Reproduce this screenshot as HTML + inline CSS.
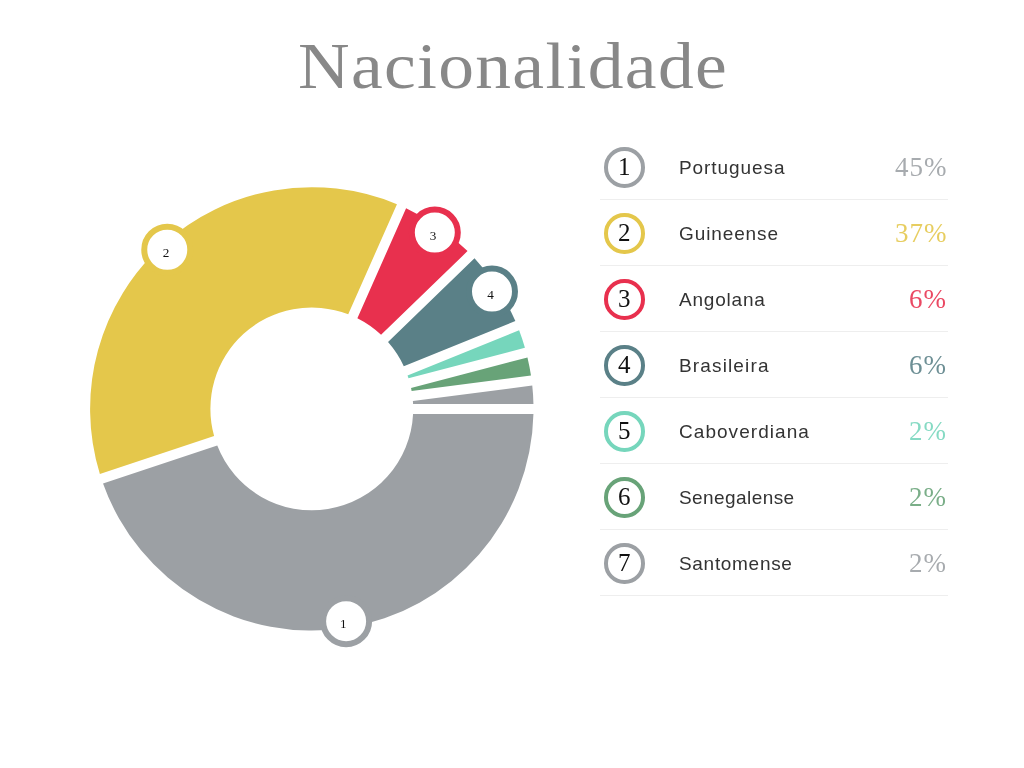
<!DOCTYPE html>
<html><head><meta charset="utf-8"><style>
html,body{margin:0;padding:0;background:#fff;width:1024px;height:768px;overflow:hidden;}
body{position:relative;}
.nm,.pc,.circ span,.title,svg text{will-change:transform;}
.title{position:absolute;left:1px;width:1024px;top:34px;text-align:center;font-family:"Liberation Serif",serif;font-size:65px;letter-spacing:1.2px;color:#888888;transform:scaleX(1.1);transform-origin:512px 0;line-height:1;white-space:nowrap;}
svg{position:absolute;left:0;top:0;}
.circ{position:absolute;left:604.3px;width:40.5px;height:40.5px;box-sizing:border-box;border:4px solid;border-radius:50%;}
.circ span{position:absolute;left:0;right:0;top:0;text-align:center;font-family:"Liberation Serif",serif;font-size:25px;line-height:32.5px;color:#111;}
.nm{position:absolute;left:679px;font-family:"Liberation Sans",sans-serif;font-size:19px;color:#333333;line-height:1;white-space:nowrap;}
.pc{position:absolute;right:77px;opacity:0.88;font-family:"Liberation Serif",serif;font-size:27px;letter-spacing:1px;line-height:1;white-space:nowrap;}
.sep{position:absolute;left:600px;width:348px;height:1px;background:#eeeeee;}
</style></head><body>
<div class="title">Nacionalidade</div>
<svg width="1024" height="768" viewBox="0 0 1024 768">
<path d="M533.44,413.90A221.7,221.7 0 0 1 103.02,483.49L217.26,445.56A101.4,101.4 0 0 0 413.08,413.90Z" fill="#9ca0a4"/><path d="M99.87,474.00A221.7,221.7 0 0 1 396.95,204.20L348.22,314.27A101.4,101.4 0 0 0 214.11,436.07Z" fill="#e4c74b"/><path d="M406.09,208.25A221.7,221.7 0 0 1 467.54,251.11L381.07,334.85A101.4,101.4 0 0 0 357.37,318.32Z" fill="#e8304e"/><path d="M474.50,258.30A221.7,221.7 0 0 1 515.37,321.09L403.80,366.26A101.4,101.4 0 0 0 388.03,342.04Z" fill="#5a8087"/><path d="M519.12,330.36A221.7,221.7 0 0 1 524.93,347.84L408.50,378.37A101.4,101.4 0 0 0 407.55,375.53Z" fill="#76d6bc"/><path d="M527.46,357.52A221.7,221.7 0 0 1 530.98,375.60L411.61,390.99A101.4,101.4 0 0 0 411.03,388.05Z" fill="#68a378"/><path d="M532.26,385.52A221.7,221.7 0 0 1 533.44,403.90L413.08,403.90A101.4,101.4 0 0 0 412.88,400.91Z" fill="#9ca0a4"/>
<circle cx="346.11" cy="621.14" r="23.0" fill="#fff" stroke="#9ca0a4" stroke-width="6.0"/><text x="343.40" y="628.10" text-anchor="middle" font-family="Liberation Serif" font-size="13.2" fill="#111">1</text><circle cx="167.26" cy="249.74" r="23.0" fill="#fff" stroke="#e4c74b" stroke-width="6.0"/><text x="166.00" y="256.90" text-anchor="middle" font-family="Liberation Serif" font-size="13.2" fill="#111">2</text><circle cx="434.81" cy="232.56" r="23.0" fill="#fff" stroke="#e8304e" stroke-width="6.0"/><text x="433.00" y="240.00" text-anchor="middle" font-family="Liberation Serif" font-size="13.2" fill="#111">3</text><circle cx="491.99" cy="291.61" r="23.0" fill="#fff" stroke="#5a8087" stroke-width="6.0"/><text x="490.60" y="299.00" text-anchor="middle" font-family="Liberation Serif" font-size="13.2" fill="#111">4</text>
</svg>
<div class="circ" style="top:147.35px;border-color:#9ca0a4"><span>1</span></div><div class="nm" style="top:157.8px;letter-spacing:0.92px">Portuguesa</div><div class="pc" style="top:154.1px;color:#9ca0a4">45%</div><div class="sep" style="top:199px"></div><div class="circ" style="top:213.35px;border-color:#e4c74b"><span>2</span></div><div class="nm" style="top:223.8px;letter-spacing:0.89px">Guineense</div><div class="pc" style="top:220.1px;color:#e4c74b">37%</div><div class="sep" style="top:265px"></div><div class="circ" style="top:279.35px;border-color:#e8304e"><span>3</span></div><div class="nm" style="top:289.8px;letter-spacing:0.79px">Angolana</div><div class="pc" style="top:286.1px;color:#e8304e">6%</div><div class="sep" style="top:331px"></div><div class="circ" style="top:345.35px;border-color:#5a8087"><span>4</span></div><div class="nm" style="top:355.8px;letter-spacing:1.14px">Brasileira</div><div class="pc" style="top:352.1px;color:#5a8087">6%</div><div class="sep" style="top:397px"></div><div class="circ" style="top:411.35px;border-color:#76d6bc"><span>5</span></div><div class="nm" style="top:421.8px;letter-spacing:1.05px">Caboverdiana</div><div class="pc" style="top:418.1px;color:#76d6bc">2%</div><div class="sep" style="top:463px"></div><div class="circ" style="top:477.35px;border-color:#68a378"><span>6</span></div><div class="nm" style="top:487.8px;letter-spacing:0.42px">Senegalense</div><div class="pc" style="top:484.1px;color:#68a378">2%</div><div class="sep" style="top:529px"></div><div class="circ" style="top:543.35px;border-color:#9ca0a4"><span>7</span></div><div class="nm" style="top:553.8px;letter-spacing:0.69px">Santomense</div><div class="pc" style="top:550.1px;color:#9ca0a4">2%</div><div class="sep" style="top:595px"></div>
</body></html>
